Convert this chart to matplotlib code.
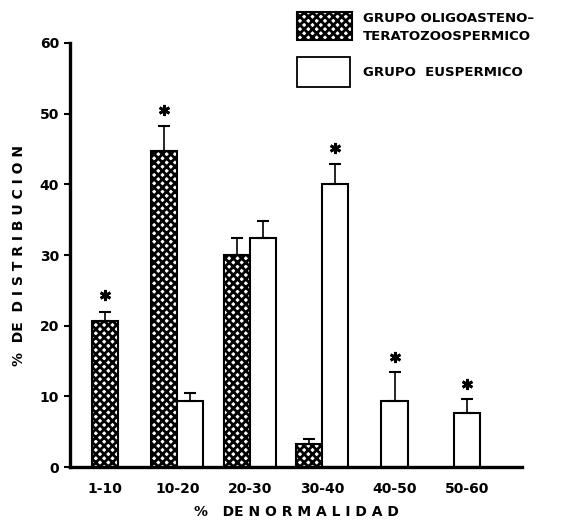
import matplotlib
matplotlib.use("Agg")
import matplotlib.pyplot as plt
from matplotlib.patches import Rectangle
import numpy as np

categories = ["1-10", "10-20", "20-30", "30-40", "40-50", "50-60"]
oligo_vals = [20.7, 44.7, 30.0, 3.2, 0, 0]
oligo_err = [1.3, 3.5, 2.4, 0.8, 0, 0]
eusp_vals = [0, 9.4, 32.4, 40.0, 9.4, 7.7]
eusp_err = [0, 1.1, 2.4, 2.9, 4.0, 1.9]
oligo_star = [True, True, False, False, False, False]
eusp_star = [False, False, False, True, True, True]
yticks = [0, 10, 20, 30, 40, 50, 60]

plt.rcParams['hatch.linewidth'] = 2.0
plt.rcParams['font.family'] = ['DejaVu Sans']

fig = plt.figure(figsize=(5.8, 5.21), dpi=100)
ax = fig.add_axes([0.1207, 0.1036, 0.9 - 0.1207, 0.9175 - 0.1036])

w = 0.36
x = np.arange(len(categories))
ox, ex = [], []
for i in range(len(categories)):
    if oligo_vals[i] > 0 and eusp_vals[i] > 0:
        ox.append(i - w / 2); ex.append(i + w / 2)
    else:
        ox.append(i); ex.append(i)

for i in range(len(categories)):
    if oligo_vals[i] > 0:
        ax.bar(ox[i], oligo_vals[i], width=w, facecolor='white', edgecolor='black',
               hatch='xxxx', linewidth=1.5, zorder=2)
        ax.errorbar(ox[i], oligo_vals[i], yerr=[[0], [oligo_err[i]]], fmt='none',
                    ecolor='black', elinewidth=1.2, capsize=4, capthick=1.5, zorder=3)
        if oligo_star[i]:
            ax.plot(ox[i], oligo_vals[i] + oligo_err[i] + 2.3, marker=(6, 2, 0),
                    markersize=8, mew=2, color='black', zorder=4)
    if eusp_vals[i] > 0:
        ax.bar(ex[i], eusp_vals[i], width=w, facecolor='white', edgecolor='black',
               linewidth=1.5, zorder=2)
        ax.errorbar(ex[i], eusp_vals[i], yerr=[[0], [eusp_err[i]]], fmt='none',
                    ecolor='black', elinewidth=1.2, capsize=4, capthick=1.5, zorder=3)
        if eusp_star[i]:
            ax.plot(ex[i], eusp_vals[i] + eusp_err[i] + 2.2, marker=(6, 2, 0),
                    markersize=8, mew=2, color='black', zorder=4)

ax.set_xlim(-0.48, 5.76)
ax.set_ylim(0, 60)
ax.spines['top'].set_visible(False)
ax.spines['right'].set_visible(False)
ax.spines['left'].set_linewidth(2.4)
ax.spines['bottom'].set_linewidth(2.4)
ax.set_yticks(yticks)
ax.set_yticklabels([str(v) for v in yticks], fontsize=10, fontweight='bold')
ax.tick_params(axis='y', direction='out', length=4, width=1.5, pad=4)
ax.set_xticks(x)
ax.set_xticklabels(categories, fontsize=10, fontweight='bold')
ax.tick_params(axis='x', length=0, pad=11)
ax.set_ylabel('%  DE  D I S T R I B U C I O N', fontsize=10, fontweight='bold', labelpad=10)
ax.set_xlabel('%   DE N O R M A L I D A D', fontsize=10, fontweight='bold', labelpad=6)

# legend
fig.patches.append(Rectangle((297 / 580, 1 - 40 / 521), 55 / 580, 28 / 521,
                             transform=fig.transFigure, facecolor='white', edgecolor='black',
                             hatch='xxxx', linewidth=1.5))
fig.patches.append(Rectangle((297 / 580, 1 - 87 / 521), 53 / 580, 30 / 521,
                             transform=fig.transFigure, facecolor='white', edgecolor='black',
                             linewidth=1.3))
fig.text(363 / 580, 1 - 18 / 521, 'GRUPO OLIGOASTENO\u2013', fontsize=9.5, fontweight='bold',
         va='center', ha='left')
fig.text(363 / 580, 1 - 36 / 521, 'TERATOZOOSPERMICO', fontsize=9.5, fontweight='bold',
         va='center', ha='left')
fig.text(363 / 580, 1 - 73 / 521, 'GRUPO  EUSPERMICO', fontsize=9.5, fontweight='bold',
         va='center', ha='left')

fig.savefig('out.png', dpi=100)
